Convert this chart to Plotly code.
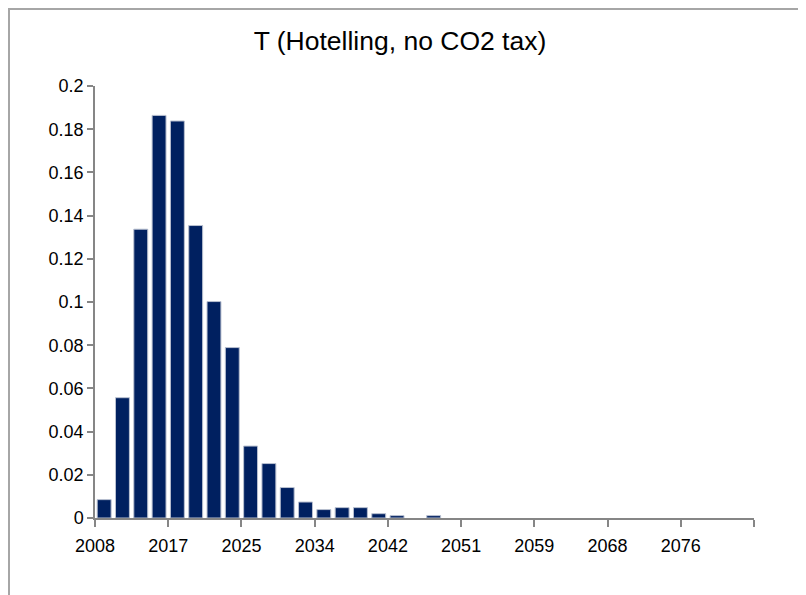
import plotly.graph_objects as go

# -----------------------------------------
# Data
# -----------------------------------------
tick_years = ["2008", "2017", "2025", "2034", "2042", "2051", "2059", "2068", "2076", ""]

share = [
    0.0085, 0.0557, 0.1337, 0.1864, 0.1838, 0.1354, 0.1002, 0.0789,
    0.0333, 0.0252, 0.0141, 0.0074, 0.0039, 0.0048, 0.0048, 0.0020,
    0.0011, 0.0, 0.0011, 0.0, 0.0, 0.0, 0.0, 0.0,
    0.0, 0.0, 0.0, 0.0, 0.0, 0.0, 0.0, 0.0,
    0.0, 0.0, 0.0, 0.0,
]

bins_per_label = 4
n_bins = len(share)

# -----------------------------------------
# Bar chart
# -----------------------------------------
fig = go.Figure()

fig.add_trace(go.Bar(
    x=list(range(n_bins)),
    y=share,
    marker=dict(
        color="#002060",
        # no outline on empty bins, so nothing is drawn along the axis
        line=dict(color="#B9C0D0", width=[1 if v > 0 else 0 for v in share]),
    ),
    showlegend=False,
))

axis_grey = "#868686"
font = "Liberation Sans, Arial, sans-serif"

# page body has an 8px margin, so the figure is a bit smaller than the window
fig.update_layout(
    width=798,
    height=587,
    paper_bgcolor="white",
    plot_bgcolor="white",
    margin=dict(l=87, r=52, t=78, b=77),
    bargap=0.24,
    font=dict(family=font, size=18, color="#000000"),
    title=dict(
        text="T (Hotelling, no CO2 tax)",
        x=(400 - 8) / 798, xref="container", xanchor="center",
        y=1 - (41 - 8) / 587, yref="container", yanchor="middle",
        font=dict(family=font, size=26.5, color="#000000"),
    ),
    xaxis=dict(
        range=[-0.5, n_bins - 0.5],
        tickvals=[i * bins_per_label - 0.5 for i in range(len(tick_years))],
        ticktext=tick_years,
        ticks="outside", ticklen=7, tickcolor=axis_grey, tickwidth=1.5,
        ticklabelstandoff=4,
        showline=True, linecolor=axis_grey, linewidth=1.5,
        showgrid=False, zeroline=False,
        tickfont=dict(size=18),
    ),
    yaxis=dict(
        range=[0, 0.2],
        tickvals=[i / 50 for i in range(11)],
        ticktext=["0", "0.02", "0.04", "0.06", "0.08", "0.1",
                  "0.12", "0.14", "0.16", "0.18", "0.2"],
        ticks="outside", ticklen=6, tickcolor=axis_grey, tickwidth=1.5,
        showline=True, linecolor=axis_grey, linewidth=1.5,
        showgrid=False, zeroline=False,
        tickfont=dict(size=18),
    ),
)

# chart border (top, left, right)
fig.add_shape(
    type="rect", xref="paper", yref="paper",
    x0=(9 - 95) / 659, x1=(802 - 95) / 659,
    y0=(518 - 620) / 432, y1=(518 - 9) / 432,
    line=dict(color="#A6A6A6", width=2),
    layer="below",
)

fig.write_html("out.html")
